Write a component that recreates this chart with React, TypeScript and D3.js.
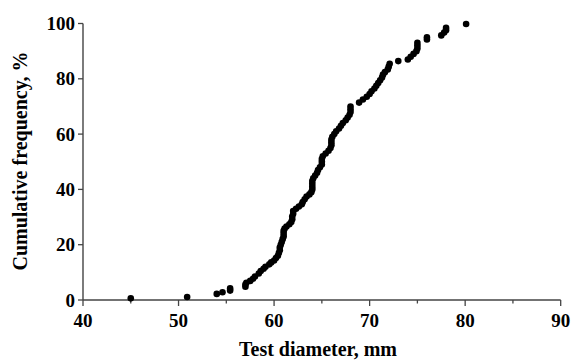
import React from "react";
import * as d3 from "d3";

const diameters = [
  45.0, 50.9, 54.0, 54.6, 55.4, 55.4, 57.0, 57.0, 57.1, 57.5, 57.8, 58.0, 58.4, 58.6, 58.9,
  59.1, 59.5, 59.7, 60.0, 60.2, 60.4, 60.5, 60.6, 60.6, 60.7, 60.8, 60.9, 61.0, 61.0, 61.0,
  61.1, 61.3, 61.6, 61.8, 61.9, 61.9, 62.0, 62.0, 62.3, 62.6, 62.9, 63.0, 63.2, 63.4, 63.7,
  63.9, 64.0, 64.0, 64.0, 64.0, 64.1, 64.3, 64.5, 64.6, 64.8, 65.0, 65.0, 65.0, 65.1, 65.4,
  65.7, 65.9, 66.0, 66.0, 66.0, 66.1, 66.3, 66.5, 66.8, 67.0, 67.2, 67.5, 67.7, 67.9, 68.0,
  68.0, 68.0, 68.9, 69.3, 69.7, 70.0, 70.2, 70.5, 70.7, 70.9, 71.1, 71.3, 71.4, 71.6, 71.9,
  72.0, 72.1, 73.0, 74.0, 74.3, 74.6, 74.9, 75.0, 75.0, 75.0, 76.0, 76.0, 77.5, 77.8, 78.0,
  78.0, 80.1,
];
const cumFreq = [
  0.6, 1.1, 2.2, 2.8, 3.4, 4.2, 4.8, 5.6, 6.2, 6.9, 7.7, 8.5, 9.6, 10.5, 11.3,
  12.0, 12.9, 13.6, 14.3, 15.2, 16.0, 17.0, 18.0, 19.0, 20.0, 21.0, 22.0, 23.0, 24.0, 25.0,
  25.8, 26.6, 27.4, 28.2, 29.2, 30.2, 31.2, 32.2, 33.0, 33.8, 34.6, 35.4, 36.4, 37.4, 38.2,
  39.0, 40.0, 41.0, 42.0, 43.0, 44.0, 45.0, 46.0, 47.0, 48.0, 49.0, 50.0, 51.0, 52.0, 53.0,
  54.0, 55.0, 56.0, 57.0, 58.0, 59.0, 60.0, 61.0, 62.0, 63.0, 64.0, 65.0, 66.0, 67.0, 68.0,
  69.0, 70.0, 71.4, 72.5, 73.5, 74.5, 75.5, 76.5, 77.5, 78.5, 79.5, 80.5, 81.5, 82.4, 83.4,
  84.4, 85.4, 86.4, 87.0, 88.0, 89.0, 90.0, 91.0, 92.0, 93.0, 94.2, 95.0, 95.7, 96.7, 97.6,
  98.4, 99.8,
];
const xTicks = [40, 50, 60, 70, 80, 90];
const xMinorTicks = [45, 55, 65, 75, 85];
const yTicks = [0, 20, 40, 60, 80, 100];
const xTitle = "Test diameter, mm";
const yTitle = "Cumulative frequency, %";

export default function App() {
  const W = 574;
  const H = 360;
  const x = d3.scaleLinear().domain([40, 90]).range([83, 560.7]);
  const y = d3.scaleLinear().domain([0, 100]).range([300, 23.5]);
  const font = "'Liberation Serif', 'Times New Roman', serif";
  const axisColor = "#444";
  const pts = diameters.map((d, i) => [d, cumFreq[i]] as [number, number]);

  return (
    <svg
      width={W}
      height={H}
      style={{ position: "absolute", left: 0, top: 0, background: "#fff" }}
      fontFamily={font}
      fontWeight="bold"
    >
      {/* axes */}
      <line x1={x(40)} x2={x(90)} y1={y(0)} y2={y(0)} stroke={axisColor} strokeWidth={1.4} />
      <line x1={x(40)} x2={x(40)} y1={y(0)} y2={y(100)} stroke={axisColor} strokeWidth={1.4} />
      {xTicks.map((t) => (
        <g key={"xt" + t}>
          <line x1={x(t)} x2={x(t)} y1={y(0)} y2={y(0) + 6} stroke={axisColor} strokeWidth={1.3} />
          <text x={x(t)} y={y(0) + 27} textAnchor="middle" fontSize={19} fill="#000">
            {t}
          </text>
        </g>
      ))}
      {xMinorTicks.map((t) => (
        <line key={"xm" + t} x1={x(t)} x2={x(t)} y1={y(0)} y2={y(0) + 3.5} stroke={axisColor} strokeWidth={1.3} />
      ))}
      {yTicks.map((t) => (
        <g key={"yt" + t}>
          <line x1={x(40) - 5} x2={x(40)} y1={y(t)} y2={y(t)} stroke={axisColor} strokeWidth={1.3} />
          <text x={x(40) - 8} y={y(t)} dy="0.35em" textAnchor="end" fontSize={19} fill="#000">
            {t}
          </text>
        </g>
      ))}
      {/* points */}
      {pts.map(([d, p], i) => (
        <circle key={i} cx={x(d)} cy={y(p)} r={3.3} fill="#000" />
      ))}
      {/* titles */}
      <text x={318} y={356} textAnchor="middle" fontSize={20} fill="#000">
        {xTitle}
      </text>
      <text
        transform={`translate(27, 161) rotate(-90)`}
        textAnchor="middle"
        fontSize={20}
        fill="#000"
      >
        {yTitle}
      </text>
    </svg>
  );
}
